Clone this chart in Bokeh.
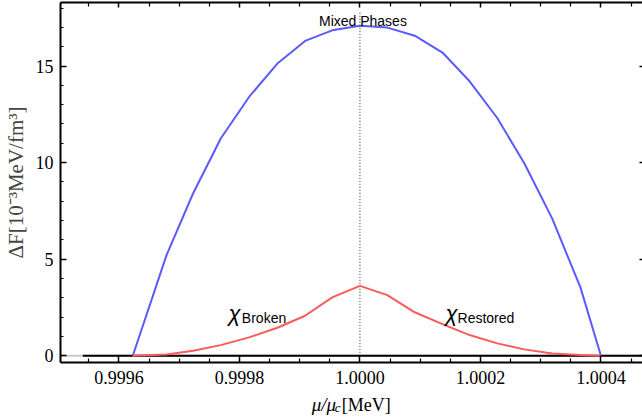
from bokeh.plotting import figure
from bokeh.layouts import column
from bokeh.models import Range1d, FixedTicker, LinearAxis, Label, Span, PrintfTickFormatter
from bokeh.embed import file_html
from bokeh.resources import INLINE

# ---- data ----
mu_ratio = [0.999623, 0.999679, 0.999723, 0.999769, 0.999816, 0.999863, 0.999909,
            0.999954, 1.000000, 1.0000455, 1.000091, 1.000137, 1.000182, 1.000228,
            1.000273, 1.000319, 1.000366, 1.000400]
dF_mixed = [0.0, 5.21, 8.40, 11.25, 13.40, 15.13, 16.30, 16.85, 17.09, 16.99, 16.57,
            15.70, 14.21, 12.31, 9.95, 7.11, 3.54, 0.0]
dF_chi = [0.0, 0.07, 0.26, 0.55, 0.95, 1.45, 2.07, 3.02, 3.62, 3.14, 2.25, 1.64,
          1.07, 0.64, 0.33, 0.12, 0.04, 0.0]
zero_x = [0.99954, 1.00047]
zero_y = [0.0, 0.0]
mu_c = 1.0
x_major_ticks = [0.9996, 0.9998, 1.0000, 1.0002, 1.0004]
x_minor_ticks = [0.99955, 0.99965, 0.9997, 0.99975, 0.99985, 0.9999, 0.99995,
                 1.00005, 1.0001, 1.00015, 1.00025, 1.0003, 1.00035, 1.00045]
y_major_ticks = [0, 5, 10, 15]
y_minor_ticks = [1, 2, 3, 4, 6, 7, 8, 9, 11, 12, 13, 14, 16, 17, 18]

SERIF = "Liberation Serif"
SANS = "Liberation Sans"

x_range = Range1d(0.999503, 1.000469)

p = figure(width=642, height=392, output_backend="svg", toolbar_location=None,
           x_range=x_range, y_range=Range1d(-0.35, 18.29),
           min_border_left=60, min_border_right=0, min_border_top=2, min_border_bottom=30,
           x_axis_location=None, y_axis_location=None)
p.grid.visible = False
p.outline_line_color = None
p.background_fill_color = "white"
p.border_fill_color = "white"


def style_axis(ax, major, minor, labels=True, line=True, tick_in=7, minor_in=4):
    ax.ticker = FixedTicker(ticks=major, minor_ticks=minor)
    ax.major_tick_in = tick_in
    ax.major_tick_out = 0
    ax.minor_tick_in = minor_in
    ax.minor_tick_out = 0
    ax.major_tick_line_color = "black"
    ax.minor_tick_line_color = "black"
    ax.major_tick_line_width = 1.5
    ax.minor_tick_line_width = 1.2
    if line:
        ax.axis_line_color = "black"
        ax.axis_line_width = 2
    else:
        ax.axis_line_color = None
    if labels:
        ax.major_label_text_font = SERIF
        ax.major_label_text_font_size = "18px"
        ax.major_label_text_color = "black"
    else:
        ax.major_label_text_font_size = "0px"
        ax.major_label_standoff = 0
        ax.major_label_text_color = None


bottom = LinearAxis(formatter=PrintfTickFormatter(format="%.4f"))
style_axis(bottom, x_major_ticks, x_minor_ticks)
bottom.major_label_standoff = 8
p.add_layout(bottom, "below")

top = LinearAxis()
style_axis(top, x_major_ticks, x_minor_ticks, labels=False, tick_in=5, minor_in=4)
p.add_layout(top, "above")

left = LinearAxis(axis_label="ΔF[10⁻³MeV/fm³]")
style_axis(left, y_major_ticks, y_minor_ticks, tick_in=6, minor_in=3)
left.major_label_standoff = 7
left.axis_label_text_font = SERIF
left.axis_label_text_font_size = "21px"
left.axis_label_text_font_style = "normal"
left.axis_label_standoff = 5
p.add_layout(left, "left")

right = LinearAxis()
style_axis(right, y_major_ticks, [], labels=False, line=False, tick_in=3, minor_in=0)
p.add_layout(right, "right")

# y = 0 axis (gray) and black zero line
p.add_layout(Span(location=0, dimension="width", line_color="#c8c8c8", line_width=2,
                  level="underlay"))
p.line(zero_x, zero_y, line_color="black", line_width=2)

# dotted critical line
p.segment(x0=[mu_c], y0=[0], x1=[mu_c], y1=[17.85], line_color="#444444",
          line_width=1.2, line_dash="1 2")

p.line(mu_ratio, dF_mixed, line_color="#5a5aff", line_width=2)
p.line(mu_ratio, dF_chi, line_color="#ff5a5a", line_width=2)

# annotations
p.add_layout(Label(x=mu_c, y=17.31, x_offset=3, text="Mixed Phases", text_align="center",
                   text_baseline="alphabetic", text_font=SANS, text_font_size="14px",
                   text_color="black"))
p.add_layout(Label(x=0.999782, y=2.2, text="χ", text_font=SANS, text_font_style="italic",
                   text_font_size="22px", text_baseline="alphabetic", text_color="black"))
p.add_layout(Label(x=0.999804, y=1.95, text="Broken", text_font=SANS,
                   text_font_size="14px", text_baseline="alphabetic", text_color="black"))
p.add_layout(Label(x=1.000142, y=2.2, text="χ", text_font=SANS, text_font_style="italic",
                   text_font_size="22px", text_baseline="alphabetic", text_color="black"))
p.add_layout(Label(x=1.000162, y=1.95, text="Restored", text_font=SANS,
                   text_font_size="14px", text_baseline="alphabetic", text_color="black"))

# strip under the plot holding the x-axis title (italic mu, subscript c)
q = figure(width=642, height=27, output_backend="svg", toolbar_location=None,
           x_range=x_range, y_range=Range1d(0, 27),
           min_border_left=60, min_border_right=0, min_border_top=0, min_border_bottom=0,
           x_axis_location=None, y_axis_location=None)
q.grid.visible = False
q.outline_line_color = None
q.background_fill_color = "white"
q.border_fill_color = "white"
q.add_layout(Label(x=0.999920, y=15, text="μ/μ",
                   text_font=SERIF, text_font_style="italic", text_font_size="19px",
                   text_baseline="alphabetic", text_color="black"))
q.add_layout(Label(x=0.999958, y=12, text="c",
                   text_font=SERIF, text_font_style="italic", text_font_size="13px",
                   text_baseline="alphabetic", text_color="black"))
q.add_layout(Label(x=0.999970, y=15, text="[MeV]",
                   text_font=SERIF, text_font_size="18px",
                   text_baseline="alphabetic", text_color="black"))

layout = column(p, q, spacing=0)
open("out.html", "w").write(file_html(layout, INLINE))
